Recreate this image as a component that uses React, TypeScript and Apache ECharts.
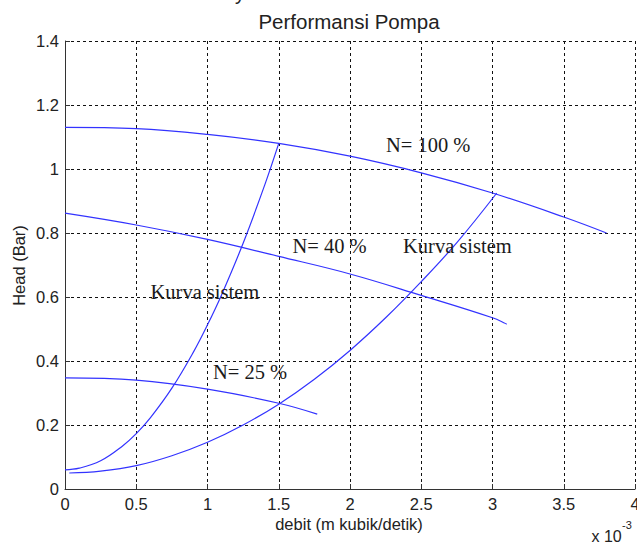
import React, { useEffect, useRef } from "react";
import * as echarts from "echarts";

// Data (x in units of 1e-3 m^3/s, y in Bar)
const n100X = [0, 0.5, 1, 1.5, 2, 2.5, 3, 3.5, 3.8];
const n100Y = [1.13, 1.126, 1.108, 1.08, 1.04, 0.988, 0.925, 0.85, 0.8];
const n40X = [0, 0.5, 1, 1.5, 2, 2.5, 3, 3.1];
const n40Y = [0.862, 0.825, 0.78, 0.727, 0.672, 0.605, 0.535, 0.515];
const n25X = [0, 0.5, 1, 1.5, 1.77];
const n25Y = [0.347, 0.34, 0.312, 0.268, 0.234];
const ks1X = [0, 0.1, 0.25, 0.4, 0.5, 0.6, 0.75, 0.9, 1, 1.1, 1.25, 1.4, 1.5];
const ks1Y = [0.06, 0.065, 0.088, 0.133, 0.173, 0.223, 0.315, 0.427, 0.513, 0.608, 0.768, 0.948, 1.08];
const ks2X = [0.03, 0.25, 0.5, 0.75, 1, 1.25, 1.5, 1.75, 2, 2.25, 2.5, 2.75, 3.03];
const ks2Y = [0.05, 0.056, 0.073, 0.104, 0.146, 0.2, 0.265, 0.343, 0.433, 0.535, 0.648, 0.77, 0.925];

const labels = [
  { text: "N= 100 %", x: 386, y: 144.5 },
  { text: "N= 40 %", x: 292.5, y: 245.8 },
  { text: "Kurva sistem", x: 403, y: 245.8 },
  { text: "Kurva sistem", x: 150.5, y: 292.4 },
  { text: "N= 25 %", x: 213, y: 372 },
];

const zip = (xs: number[], ys: number[]) => xs.map((x, i) => [x, ys[i]]);

export default function App() {
  const ref = useRef<HTMLDivElement>(null);
  useEffect(() => {
    if (!ref.current) return;
    const chart = echarts.init(ref.current, null, { renderer: "svg" });
    const lineColor = "#3333ff";
    const mk = (xs: number[], ys: number[]) => ({
      type: "line",
      data: zip(xs, ys),
      showSymbol: false,
      smooth: 0.4,
      lineStyle: { color: lineColor, width: 1.2 },
      silent: true,
    });
    const serif = "'Liberation Serif', 'Times New Roman', serif";
    const sans = "'Liberation Sans', Arial, sans-serif";
    chart.setOption({
      animation: false,
      backgroundColor: "#ffffff",
      grid: { left: 65, top: 41, width: 570, height: 448, containLabel: false, outerBoundsMode: "none" },
      xAxis: {
        type: "value",
        min: 0,
        max: 4,
        interval: 0.5,
        axisLine: { show: true, onZero: false, lineStyle: { color: "#333", width: 1 } },
        axisTick: { show: true, inside: true, length: 5, lineStyle: { color: "#333" } },
        axisLabel: { color: "#222", fontSize: 16.5, fontFamily: sans, margin: 6, hideOverlap: false },
        splitLine: { show: true, lineStyle: { color: "#111", width: 1, type: [3, 3] } },
      },
      yAxis: {
        type: "value",
        min: 0,
        max: 1.4,
        interval: 0.2,
        axisLine: { show: true, onZero: false, lineStyle: { color: "#333", width: 1 } },
        axisTick: { show: true, inside: true, length: 5, lineStyle: { color: "#333" } },
        axisLabel: { color: "#222", fontSize: 16.5, fontFamily: sans, margin: 6 },
        splitLine: { show: true, lineStyle: { color: "#111", width: 1, type: [3, 3] } },
      },
      series: [
        mk(n100X, n100Y),
        mk(n40X, n40Y),
        mk(n25X, n25Y),
        mk(ks1X, ks1Y),
        mk(ks2X, ks2Y),
      ],
      graphic: [
        {
          type: "text",
          x: 240,
          y: 3,
          style: { text: "y", fontSize: 20, fontFamily: sans, fill: "#222", textAlign: "center", textVerticalAlign: "bottom" },
        },
        {
          type: "text",
          x: 349,
          y: 21.4,
          style: { text: "Performansi Pompa", fontSize: 20.5, fontFamily: sans, fill: "#222", textAlign: "center", textVerticalAlign: "middle" },
        },
        {
          type: "text",
          x: 19,
          y: 265.5,
          rotation: Math.PI / 2,
          style: { text: "Head (Bar)", fontSize: 16.5, fontFamily: sans, fill: "#222", textAlign: "center", textVerticalAlign: "middle" },
        },
        {
          type: "text",
          x: 349,
          y: 524.3,
          style: { text: "debit (m kubik/detik)", fontSize: 16.5, fontFamily: sans, fill: "#222", textAlign: "center", textVerticalAlign: "middle" },
        },
        {
          type: "text",
          x: 591.5,
          y: 536,
          style: { text: "x 10", fontSize: 16, fontFamily: sans, fill: "#222", textAlign: "left", textVerticalAlign: "middle" },
        },
        {
          type: "text",
          x: 622,
          y: 524.5,
          style: { text: "-3", fontSize: 11, fontFamily: sans, fill: "#222", textAlign: "left", textVerticalAlign: "middle" },
        },
        ...labels.map((l) => ({
          type: "text",
          x: l.x,
          y: l.y,
          z: 10,
          style: { text: l.text, fontSize: 20.5, fontFamily: serif, fill: "#1a1a1a", textAlign: "left", textVerticalAlign: "middle" },
        })),
      ],
    });
    return () => chart.dispose();
  }, []);
  return (
    <div
      ref={ref}
      style={{ position: "fixed", left: 0, top: 0, width: 637, height: 543, background: "#fff" }}
    />
  );
}
